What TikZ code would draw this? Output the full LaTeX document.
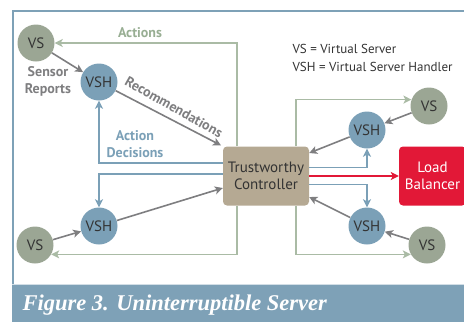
\documentclass[tikz,border=0pt]{standalone}
\usepackage{fontspec}
\setmainfont{PT Sans}
\newfontfamily\captionfont{Liberation Serif}
\usetikzlibrary{calc}
\usetikzlibrary{arrows.meta}
\definecolor{vsgray}{HTML}{9BA694}
\definecolor{vshblue}{HTML}{7BA0B7}
\definecolor{ctrltan}{HTML}{B5A993}
\definecolor{lbred}{HTML}{E21837}
\definecolor{arrgray}{HTML}{7E7E80}
\definecolor{actgreen}{HTML}{AABBA5}
\definecolor{labgreen}{HTML}{98AE93}
\definecolor{bandblue}{HTML}{7EA1B7}
\definecolor{txtgray}{HTML}{333333}
\newcommand{\vsnode}[3]{\node[vs] (#1) at (#2,#3) {VS};}
\newcommand{\vshnode}[3]{\node[vsh] (#1) at (#2,#3) {VSH};}
\tikzset{
  vs/.style={circle, fill=vsgray, minimum size=37pt, inner sep=0pt, text=txtgray, font=\fontsize{15}{15}\selectfont},
  vsh/.style={vs, fill=vshblue},
  ctrlbox/.style={rectangle, rounded corners=4pt, fill=ctrltan, minimum width=86pt, minimum height=59pt, align=center, text=txtgray, font=\fontsize{15}{17}\selectfont},
  lbbox/.style={ctrlbox, fill=lbred, text=white, minimum width=67pt},
  arrowline/.style={-{Stealth[length=8pt,width=8pt,inset=2pt]}, line width=1.6pt},
  reportline/.style={arrowline, draw=arrgray},
  actionline/.style={arrowline, draw=actgreen},
  decision/.style={arrowline, draw=vshblue},
  lbline/.style={arrowline, draw=lbred},
  labtext/.style={font=\fontsize{14}{17}\selectfont\bfseries, align=center},
  keytext/.style={anchor=west, text=txtgray, font=\fontsize{13}{15}\selectfont}
}

\begin{document}
\begin{tikzpicture}[x=1pt, y=-1pt]
            \useasboundingbox (0,0) rectangle (464,322);
            % frame and caption band
            \draw[bandblue, line width=1.3pt] (464,11) -- (13,11) -- (13,285);
            \fill[bandblue] (12,285) rectangle (464,322);
            \draw[bandblue!35, line width=1pt] (12,284.5) -- (464,284.5);
            \node[anchor=base west, text=white, font=\captionfont\bfseries\itshape\fontsize{22.5}{22.5}\selectfont] (cap) at (19,310) {Figure 3. Uninterruptible Server};
            % controller and load balancer
            \node[ctrlbox] (ctrl) at (266,176) {Trustworthy\\Controller};
            \node[lbbox] (lb) at (432.5,176) {Load\\Balancer};
            % left side
            \vsnode{vs1}{36}{43}
            \vshnode{vsh1}{99}{82}
            \vshnode{vsh2}{99}{226}
            \vsnode{vs2}{35}{245}
            % right side
            \vshnode{vsh3}{367}{130}
            \vsnode{vs3}{429}{106}
            \vshnode{vsh4}{367}{226}
            \vsnode{vs4}{427}{245}
            % key
            \node[keytext] (key1) at (289,49) {VS = Virtual Server};
            \node[keytext] (key2) at (289,67) {VSH = Virtual Server Handler};
            % actions
            \coordinate (gl) at (237,0);
            \coordinate (gr) at (296,0);
            \draw[actionline] (ctrl.north -| gl) |- (vs1);
            \draw[actionline] (ctrl.south -| gl) |- (vs2.-30);
            \draw[actionline] (ctrl.north -| gr) |- (vs3.160);
            \draw[actionline] (ctrl.south -| gr) |- (vs4.-150);
            % action decisions
            \draw[decision] ($(ctrl.west)+(0,-13)$) -| (vsh1);
            \draw[decision] ($(ctrl.west)+(0,-2)$) -| (vsh2);
            \draw[decision] ($(ctrl.east)+(0,-8.5)$) -| (vsh3);
            \draw[decision] ($(ctrl.east)+(0,8.5)$) -| (vsh4);
            \draw[lbline] (ctrl) -- (lb);
            % reports
            \draw[reportline] (vs1) -- (vsh1);
            \draw[reportline, shorten >=2pt] (vsh1) -- (ctrl.north west);
            \draw[reportline] (vs2) -- (vsh2);
            \draw[reportline] (vsh2) -- ($(ctrl.west)+(0,12)$);
            \draw[reportline] (vs3) -- (vsh3);
            \draw[reportline] (vsh3) -- ($(ctrl.east)+(0,-23)$);
            \draw[reportline] (vs4) -- (vsh4);
            \draw[reportline] (vsh4) -- ($(ctrl.east)+(0,21)$);
            % labels
            \node[labtext, text=labgreen] (actlab) at (140,33) {Actions};
            \node[labtext, text=arrgray] (senslab) at (48,81) {Sensor\\Reports};
            \node[labtext, text=arrgray, rotate=-29.5] (reclab) at (174,107) {Recommendations};
            \node[labtext, text=vshblue] (declab) at (135,144) {Action\\Decisions};
\end{tikzpicture}
\end{document}
